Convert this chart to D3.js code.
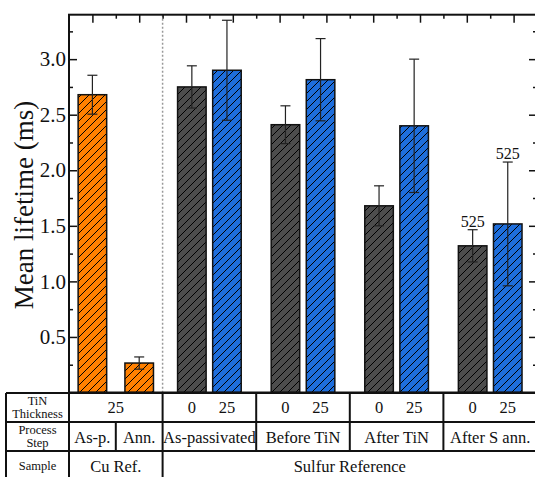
<!DOCTYPE html>
<html>
<head>
<meta charset="utf-8">
<script src="https://cdn.jsdelivr.net/npm/d3@7"></script>
<style>
  html, body { margin: 0; padding: 0; background: #fff; }
  svg { display: block; }
</style>
</head>
<body>
<svg id="chart" width="535" height="477"></svg>
<script>
// ---- data ----
const cuProcess = ["As-p.", "Ann."];
const cuValues = [2.68, 0.265];
const cuErrors = [0.175, 0.055];

const sulfurProcess = ["As-passivated", "Before TiN", "After TiN", "After S ann."];
const tin0Values = [2.75, 2.41, 1.68, 1.32];
const tin0Errors = [0.19, 0.17, 0.18, 0.145];
const tin25Values = [2.90, 2.815, 2.40, 1.517];
const tin25Errors = [0.45, 0.37, 0.60, 0.557];

const yTicks = [0.5, 1.0, 1.5, 2.0, 2.5, 3.0];
const yMinorTicks = [0.25, 0.75, 1.25, 1.75, 2.25, 2.75, 3.25];
const thicknessLabels = ["0", "25"];
const cuThickness = "25";
const countLabels = [{ series: 0, group: 3, text: "525" }, { series: 1, group: 3, text: "525" }];

// ---- layout ----
const FONT = '"Liberation Serif", Tinos, "Times New Roman", Times, "Nimbus Roman", "Nimbus Roman No9 L", "Noto Serif", "DejaVu Serif", FreeSerif, serif';
const svg = d3.select("#chart");
const x = d3.scaleLinear().domain([0.5, 10.5]).range([69, 537]);
const y = d3.scaleLinear().domain([0, 3.4]).range([392.5, 14.7]);
const barW = x(0.61) - x(0);
const off = 0.375;

const colors = { cu: "#FF8000", tin0: "#4D4D4D", tin25: "#1E6EDC" };

// hatch patterns
const defs = svg.append("defs");
Object.entries(colors).forEach(([k, c]) => {
  const p = defs.append("pattern").attr("id", "hatch-" + k)
    .attr("patternUnits", "userSpaceOnUse").attr("width", 8).attr("height", 8);
  p.append("rect").attr("width", 8).attr("height", 8).attr("fill", c);
  p.append("path").attr("d", "M-2,2 L2,-2 M0,8 L8,0 M6,10 L10,6")
    .attr("stroke", "#000").attr("stroke-width", 1);
});

// build bar records
const bars = [];
cuValues.forEach((v, i) => bars.push({ xc: i + 1, v, e: cuErrors[i], key: "cu" }));
sulfurProcess.forEach((g, i) => {
  const gc = 3.5 + 2 * i;
  bars.push({ xc: gc - off, v: tin0Values[i], e: tin0Errors[i], key: "tin0" });
  bars.push({ xc: gc + off, v: tin25Values[i], e: tin25Errors[i], key: "tin25" });
});

// dotted separator
svg.append("line").attr("x1", x(2.5)).attr("x2", x(2.5))
  .attr("y1", y(3.4)).attr("y2", y(0))
  .attr("stroke", "#999").attr("stroke-width", 1.5).attr("stroke-dasharray", "2,2");

// bars
svg.append("g").selectAll("rect").data(bars).join("rect")
  .attr("x", d => x(d.xc) - barW / 2)
  .attr("y", d => y(d.v))
  .attr("width", barW)
  .attr("height", d => y(0) - y(d.v))
  .attr("fill", d => `url(#hatch-${d.key})`)
  .attr("stroke", "#111").attr("stroke-width", 1.5);

// error bars
const eg = svg.append("g").attr("stroke", "#222").attr("stroke-width", 1.2);
bars.forEach(d => {
  const xc = x(d.xc);
  eg.append("line").attr("x1", xc).attr("x2", xc).attr("y1", y(d.v + d.e)).attr("y2", y(d.v - d.e));
  eg.append("line").attr("x1", xc - 5).attr("x2", xc + 5).attr("y1", y(d.v + d.e)).attr("y2", y(d.v + d.e));
  eg.append("line").attr("x1", xc - 5).attr("x2", xc + 5).attr("y1", y(d.v - d.e)).attr("y2", y(d.v - d.e));
});

// count labels
countLabels.forEach(c => {
  const vals = c.series === 0 ? tin0Values : tin25Values;
  const errs = c.series === 0 ? tin0Errors : tin25Errors;
  const xc = 3.5 + 2 * c.group + (c.series === 0 ? -off : off);
  svg.append("text").attr("x", x(xc)).attr("y", y(vals[c.group] + errs[c.group]) - 3)
    .attr("text-anchor", "middle").attr("font-size", 16).attr("font-family", FONT).attr("fill", "#111").text(c.text);
});

// axes
function styleAxis(g) {
  g.select(".domain").remove();
  g.selectAll(".tick line").attr("stroke", "#111").attr("stroke-width", 1.5);
}
svg.append("g").attr("transform", `translate(${x(0.5)},0)`)
  .call(d3.axisLeft(y).tickValues(yTicks).tickSize(-8).tickPadding(3).tickFormat(d3.format(".1f")))
  .call(styleAxis)
  .attr("font-family", FONT).attr("font-size", 21)
  .call(g => g.selectAll("text").attr("fill", "#111"));
svg.append("g").attr("transform", `translate(${x(0.5)},0)`)
  .call(d3.axisLeft(y).tickValues(yMinorTicks).tickSize(-4).tickFormat(""))
  .call(styleAxis);
svg.append("g").attr("transform", `translate(${x(10.5)},0)`)
  .call(d3.axisRight(y).tickValues(yTicks).tickSize(-8).tickFormat(""))
  .call(styleAxis);
svg.append("g").attr("transform", `translate(${x(10.5)},0)`)
  .call(d3.axisRight(y).tickValues(yMinorTicks).tickSize(-4).tickFormat(""))
  .call(styleAxis);
svg.append("g").attr("transform", `translate(0,${y(3.4)})`)
  .call(d3.axisTop(x).tickValues(d3.range(1, 11)).tickSize(-8).tickFormat(""))
  .call(styleAxis);
svg.append("g").attr("transform", `translate(0,${y(3.4)})`)
  .call(d3.axisTop(x).tickValues(d3.range(1.5, 10.5, 1)).tickSize(-4).tickFormat(""))
  .call(styleAxis);

// frame
svg.append("rect").attr("x", x(0.5)).attr("y", y(3.4))
  .attr("width", x(10.5) - x(0.5)).attr("height", y(0) - y(3.4))
  .attr("fill", "none").attr("stroke", "#111").attr("stroke-width", 2);

// y label
svg.append("text").attr("transform", `translate(33,205) rotate(-90)`)
  .attr("text-anchor", "middle").attr("font-size", 27).attr("font-family", FONT).attr("fill", "#111")
  .text("Mean lifetime (ms)");

// ---- table ----
const rowY = [393, 422, 451, 480];
const tg = svg.append("g").attr("stroke", "#111").attr("stroke-width", 2);
const leftX = 6;
rowY.slice(0, 3).forEach(r => tg.append("line").attr("x1", leftX).attr("x2", 540).attr("y1", r).attr("y2", r));
tg.append("line").attr("x1", leftX).attr("x2", leftX).attr("y1", rowY[0]).attr("y2", 480);
tg.append("line").attr("x1", x(0.5)).attr("x2", x(0.5)).attr("y1", rowY[0]).attr("y2", 480);
[2.5, 4.5, 6.5, 8.5].forEach(v => tg.append("line").attr("x1", x(v)).attr("x2", x(v))
  .attr("y1", rowY[0]).attr("y2", v === 2.5 ? 480 : rowY[2]));
tg.append("line").attr("x1", x(1.5)).attr("x2", x(1.5)).attr("y1", rowY[1]).attr("y2", rowY[2]);

const lx = (leftX + x(0.5)) / 2;
const rowLabel = (lines, ys) => lines.forEach((t, i) => svg.append("text").attr("x", lx).attr("y", ys[i])
  .attr("text-anchor", "middle").attr("font-size", 12.5).attr("font-family", FONT).attr("fill", "#111").text(t));
rowLabel(["TiN", "Thickness"], [405, 418]);
rowLabel(["Process", "Step"], [434, 447]);
rowLabel(["Sample"], [470]);

const cell = (xv, yy, t) => svg.append("text").attr("x", x(xv)).attr("y", yy)
  .attr("text-anchor", "middle").attr("font-size", 16.5).attr("font-family", FONT).attr("fill", "#111").text(t);
cell(1.5, 413, cuThickness);
sulfurProcess.forEach((g, i) => {
  const gc = 3.5 + 2 * i;
  cell(gc - off, 413, thicknessLabels[0]);
  cell(gc + off, 413, thicknessLabels[1]);
  cell(gc, 443, g);
});
cuProcess.forEach((p, i) => cell(i + 1, 443, p));
cell(1.5, 472, "Cu Ref.");
cell(6.5, 472, "Sulfur Reference");
</script>
</body>
</html>
